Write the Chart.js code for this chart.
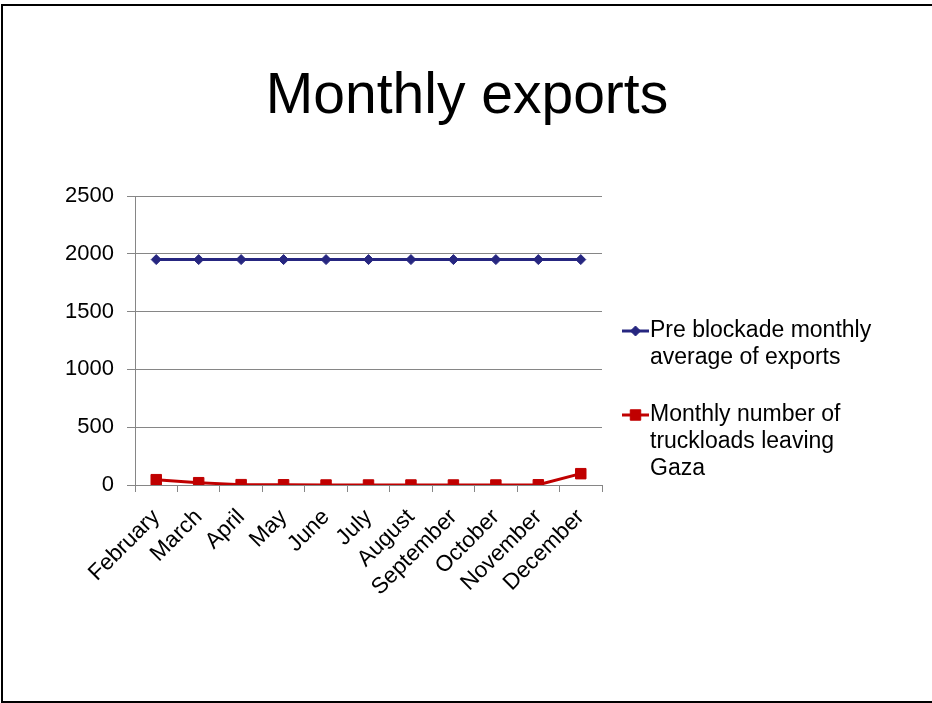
<!DOCTYPE html>
<html lang="en">
<head>
    <meta charset="UTF-8">
    <title>Monthly exports</title>
    <script src="https://cdn.jsdelivr.net/npm/chart.js"></script>
    <style>
* {
    margin: 0;
    padding: 0;
    box-sizing: border-box;
}

html, body {
    width: 932px;
    height: 703px;
    overflow: hidden;
    background: #fff;
    font-family: "Liberation Sans", Arial, sans-serif;
}

.frame {
    position: absolute;
    left: 1px;
    top: 4px;
    width: 960px;
    height: 699px;
    border-left: 2px solid #000;
    border-top: 2px solid #000;
    border-bottom: 2px solid #000;
    border-right: none;
    pointer-events: none;
}

.chart-container {
    position: absolute;
    left: 0;
    top: 0;
    width: 932px;
    height: 703px;
}
    </style>
</head>

<body>
    <div class="chart-container">
        <canvas id="exportChart" width="932" height="703"></canvas>
    </div>
    <div class="frame"></div>

    <script>
        // chart data
        const months = ['February', 'March', 'April', 'May', 'June', 'July',
                        'August', 'September', 'October', 'November', 'December'];
        const preBlockade = [1950, 1950, 1950, 1950, 1950, 1950, 1950, 1950, 1950, 1950, 1950];
        const truckloads = [46, 20, 3, 2, 0, 0, 0, 0, 0, 2, 98];
        const yTicks = [0, 500, 1000, 1500, 2000, 2500];

        const chartTitle = 'Monthly exports';
        // legend text, wrapped the way the original shows it
        const seriesLabels = [
            ['Pre blockade monthly', 'average of exports'],
            ['Monthly number of', 'truckloads leaving', 'Gaza']
        ];

        const fontFamily = '"Liberation Sans", Arial, sans-serif';
        const gridGrey = '#868686';

        // slide title, centred on the whole page (not just the plot)
        const pageTitle = {
            id: 'pageTitle',
            afterDraw(chart) {
                const ctx = chart.ctx;
                ctx.save();
                ctx.font = '57px ' + fontFamily;
                ctx.fillStyle = '#000';
                ctx.textAlign = 'center';
                ctx.textBaseline = 'middle';
                ctx.fillText(chartTitle, chart.width / 2 + 1, 97);
                ctx.restore();
            }
        };

        // legend on the right with wrapped labels
        const sideLegend = {
            id: 'sideLegend',
            afterDraw(chart) {
                const ctx = chart.ctx;
                const area = chart.chartArea;
                const x0 = area.right + 20;
                const lineH = 27;
                let y = 331;
                ctx.save();
                ctx.font = '23px ' + fontFamily;
                ctx.textBaseline = 'middle';
                ctx.textAlign = 'left';
                chart.data.datasets.forEach((ds, i) => {
                    ctx.strokeStyle = ds.borderColor;
                    ctx.lineWidth = ds.borderWidth;
                    ctx.beginPath();
                    ctx.moveTo(x0, y);
                    ctx.lineTo(x0 + 27, y);
                    ctx.stroke();
                    ctx.fillStyle = ds.pointBackgroundColor;
                    ctx.strokeStyle = ds.pointBorderColor;
                    ctx.lineWidth = 1;
                    Chart.helpers.drawPoint(ctx, {
                        pointStyle: ds.pointStyle,
                        radius: ds.pointRadius,
                        borderWidth: 1
                    }, x0 + 13.5, y);
                    ctx.fillStyle = '#000';
                    seriesLabels[i].forEach((line, k) => {
                        ctx.fillText(line, x0 + 28, y + k * lineH);
                    });
                    y += seriesLabels[i].length * lineH + 30;
                });
                ctx.restore();
            }
        };

        const ctx = document.getElementById('exportChart').getContext('2d');

        new Chart(ctx, {
            type: 'line',
            data: {
                labels: months,
                datasets: [{
                    label: seriesLabels[0].join(' '),
                    data: preBlockade,
                    borderColor: '#262680',
                    backgroundColor: '#262680',
                    pointBackgroundColor: '#262680',
                    pointBorderColor: '#262680',
                    borderWidth: 3,
                    pointStyle: 'rectRot',
                    pointRadius: 5,
                    pointBorderWidth: 1,
                    tension: 0
                }, {
                    label: seriesLabels[1].join(' '),
                    data: truckloads,
                    borderColor: '#C00000',
                    backgroundColor: '#C00000',
                    pointBackgroundColor: '#C00000',
                    pointBorderColor: '#C00000',
                    borderWidth: 3,
                    pointStyle: 'rect',
                    pointRadius: 7.4,
                    pointBorderWidth: 1,
                    tension: 0
                }]
            },
            options: {
                responsive: false,
                maintainAspectRatio: false,
                animation: false,
                devicePixelRatio: 1,
                layout: {
                    padding: { left: 0, right: 330, top: 196, bottom: 108 }
                },
                plugins: {
                    legend: { display: false },
                    tooltip: { enabled: false },
                    title: { display: false }
                },
                scales: {
                    x: {
                        offset: true,
                        grid: {
                            offset: true,
                            drawOnChartArea: false,
                            drawTicks: true,
                            tickLength: 7,
                            color: gridGrey
                        },
                        border: { color: gridGrey, width: 1 },
                        ticks: {
                            color: '#000',
                            font: { family: fontFamily, size: 22.5 },
                            minRotation: 45,
                            maxRotation: 45,
                            padding: 12,
                            autoSkip: false
                        },
                        afterFit(scale) { scale.height = 110; }
                    },
                    y: {
                        min: 0,
                        max: 2500,
                        afterBuildTicks(scale) {
                            scale.ticks = yTicks.map(v => ({ value: v }));
                        },
                        grid: {
                            color: gridGrey,
                            tickLength: 8,
                            lineWidth: 1
                        },
                        border: { color: gridGrey, width: 1 },
                        ticks: {
                            color: '#000',
                            font: { family: fontFamily, size: 22 },
                            padding: 13,
                            callback: value => String(value)
                        },
                        afterFit(scale) { scale.width = 135; }
                    }
                }
            },
            plugins: [pageTitle, sideLegend]
        });
    </script>
</body>
</html>
